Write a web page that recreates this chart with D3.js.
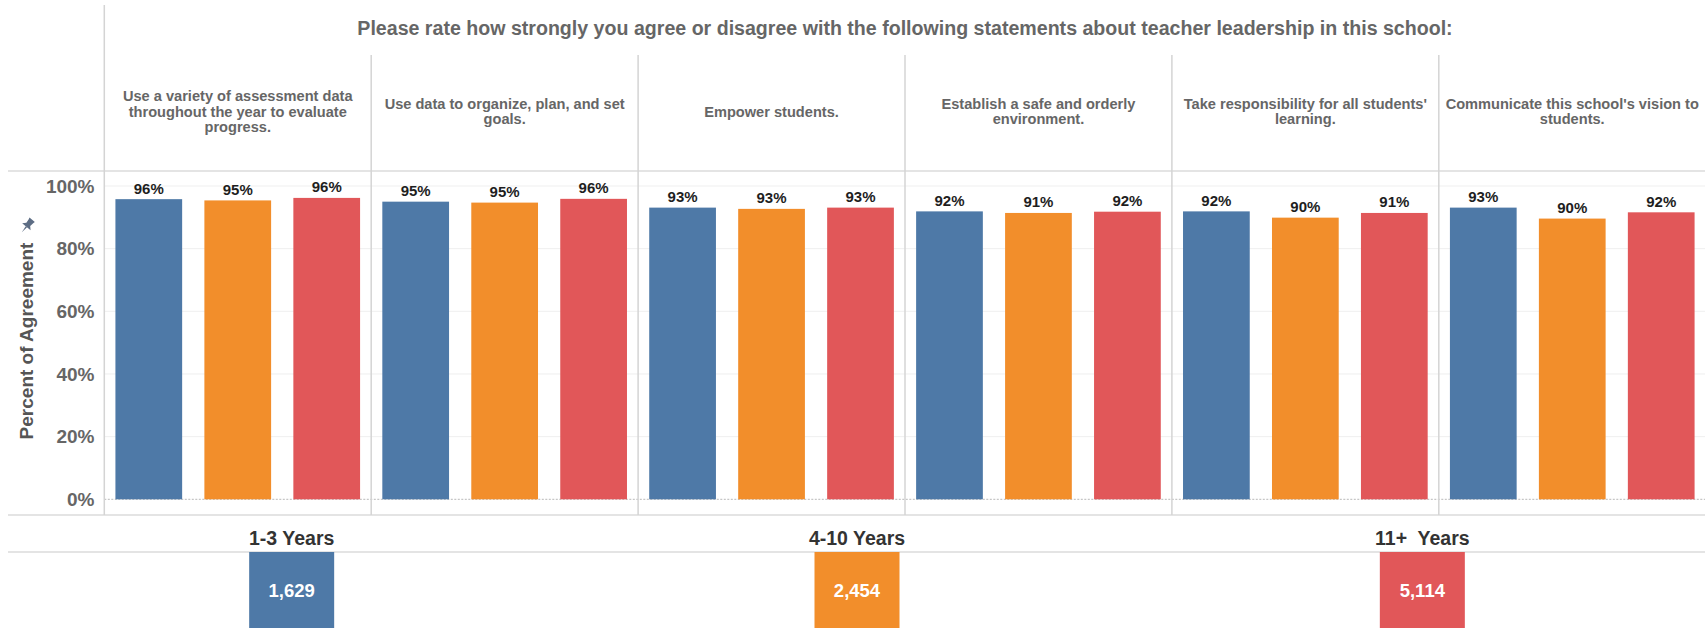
<!DOCTYPE html>
<html>
<head>
<meta charset="utf-8">
<script src="https://cdn.jsdelivr.net/npm/d3@7"></script>
<style>
  html, body { margin: 0; padding: 0; background: #fff; }
  svg { display: block; font-family: "Liberation Sans", Arial, Helvetica, sans-serif; }
</style>
</head>
<body>
<svg id="chart" width="1705" height="628"></svg>
<script>
// Survey question and statements (each statement split into its display lines)
const questionTitle = "Please rate how strongly you agree or disagree with the following statements about teacher leadership in this school:";
const statementLines = [
  ["Use a variety of assessment data", "throughout the year to evaluate", "progress."],
  ["Use data to organize, plan, and set", "goals."],
  ["Empower students."],
  ["Establish a safe and orderly", "environment."],
  ["Take responsibility for all students'", "learning."],
  ["Communicate this school's vision to", "students."]
];

// Years-of-experience groups, their colours and respondent counts
const groups = ["1-3 Years", "4-10 Years", "11+  Years"];
const groupColors = ["#4e79a7", "#f28e2b", "#e15759"];
const respondentCounts = [1629, 2454, 5114];

// Percent of agreement per statement, one array per group
const agree1to3 = [0.958, 0.950, 0.931, 0.919, 0.919, 0.931];
const agree4to10 = [0.954, 0.947, 0.927, 0.914, 0.899, 0.896];
const agree11plus = [0.962, 0.959, 0.931, 0.918, 0.914, 0.916];

// Y axis ticks
const yTicks = [0, 0.2, 0.4, 0.6, 0.8, 1.0];
const yAxisTitle = "Percent of Agreement";

const seriesValues = [agree1to3, agree4to10, agree11plus];
const W = 1705, H = 628;
const svg = d3.select("#chart");

const panelLeft = 104.3, panelRight = 1705.7;
const plotTop = 171, plotBottom = 515;

const statementIdx = d3.range(statementLines.length);
const xPanel = d3.scaleBand().domain(statementIdx).range([panelLeft, panelRight]);
const xInner = d3.scaleBand().domain(d3.range(groups.length))
  .range([0, xPanel.bandwidth()]).paddingInner(0.25).paddingOuter(0.125);
const y = d3.scaleLinear().domain([0, 1]).range([499.3, 186]);
const color = d3.scaleOrdinal().domain(d3.range(groups.length)).range(groupColors);
const pct = d3.format(".0%");

// Gridlines
svg.append("g").selectAll("line").data(yTicks.filter(d => d > 0)).join("line")
  .attr("x1", panelLeft).attr("x2", W)
  .attr("y1", d => y(d)).attr("y2", d => y(d))
  .attr("stroke", "#efefef").attr("stroke-width", 1);

// Zero line (dotted)
svg.append("line")
  .attr("x1", panelLeft).attr("x2", W).attr("y1", y(0)).attr("y2", y(0))
  .attr("stroke", "#b8b8b8").attr("stroke-width", 1).attr("stroke-dasharray", "2,1.5");

// Horizontal frame lines
[plotTop, plotBottom, 552].forEach(yy => {
  svg.append("line").attr("x1", 8).attr("x2", W).attr("y1", yy).attr("y2", yy)
    .attr("stroke", "#e4e4e4").attr("stroke-width", 2);
});

// Panel dividers
svg.append("line").attr("x1", panelLeft).attr("x2", panelLeft).attr("y1", 5).attr("y2", plotBottom)
  .attr("stroke", "#d4d4d4").attr("stroke-width", 1.5);
svg.append("g").selectAll("line").data(statementIdx.slice(1)).join("line")
  .attr("x1", d => xPanel(d)).attr("x2", d => xPanel(d))
  .attr("y1", 55).attr("y2", plotBottom)
  .attr("stroke", "#d4d4d4").attr("stroke-width", 1.5);

// Title
svg.append("text")
  .attr("x", (panelLeft + panelRight) / 2).attr("y", 35)
  .attr("text-anchor", "middle").attr("font-size", 19.6).attr("font-weight", "bold")
  .attr("fill", "#666").text(questionTitle);

// Statement headers
const lineH = 15.2, headerMid = 111.5;
statementLines.forEach((lines, i) => {
  const cx = xPanel(i) + xPanel.bandwidth() / 2;
  const t = svg.append("text").attr("text-anchor", "middle")
    .attr("font-size", 14.6).attr("font-weight", "bold").attr("fill", "#666");
  lines.forEach((ln, k) => {
    t.append("tspan").attr("x", cx)
      .attr("y", headerMid - (lines.length - 1) * lineH / 2 + 5 + k * lineH)
      .text(ln);
  });
});

// Bars and value labels
const panels = svg.append("g").selectAll("g").data(statementIdx).join("g")
  .attr("transform", d => `translate(${xPanel(d)},0)`);
panels.each(function(si) {
  const g = d3.select(this);
  const rows = groups.map((grp, gi) => ({ gi, v: seriesValues[gi][si] }));
  g.selectAll("rect").data(rows).join("rect")
    .attr("x", d => xInner(d.gi)).attr("width", xInner.bandwidth())
    .attr("y", d => y(d.v)).attr("height", d => y(0) - y(d.v))
    .attr("fill", d => color(d.gi));
  g.selectAll("text").data(rows).join("text")
    .attr("x", d => xInner(d.gi) + xInner.bandwidth() / 2)
    .attr("y", d => y(d.v) - 5.5)
    .attr("text-anchor", "middle").attr("font-size", 15).attr("font-weight", "bold")
    .attr("fill", "#1e1e1e").text(d => pct(d.v));
});

// Y axis labels
const yAxis = d3.axisLeft(y).tickValues(yTicks).tickFormat(pct).tickSize(0).tickPadding(0);
const ya = svg.append("g").attr("transform", "translate(94.5,0)").call(yAxis);
ya.select(".domain").remove();
ya.selectAll("text").attr("font-size", 19).attr("font-weight", "bold")
  .attr("fill", "#666").attr("font-family", "Liberation Sans, Arial, sans-serif");

// Y axis title with pin marker
svg.append("text")
  .attr("transform", "translate(33,341) rotate(-90)")
  .attr("text-anchor", "middle").attr("font-size", 19).attr("font-weight", "bold")
  .attr("fill", "#555").text(yAxisTitle);
const pin = svg.append("g").attr("transform", "translate(27,226) rotate(40)").attr("fill", "#5d6d84");
pin.append("path").attr("d", "M-3.5,-8 L3.5,-8 L3,-6.5 L2.5,-2 L5.5,1 L-5.5,1 L-2.5,-2 L-3,-6.5 Z");
pin.append("path").attr("d", "M-0.9,1 L0.9,1 L0,8 Z");

// Group labels and respondent counts
const xGroup = d3.scaleBand().domain(d3.range(groups.length)).range([9, W]);
const boxW = 85;
const foot = svg.append("g").selectAll("g").data(d3.range(groups.length)).join("g")
  .attr("transform", d => `translate(${xGroup(d) + xGroup.bandwidth() / 2},0)`);
foot.append("text").attr("y", 544.5).attr("text-anchor", "middle")
  .attr("font-size", 19.5).attr("font-weight", "bold").attr("fill", "#333")
  .style("white-space", "pre").text(d => groups[d]);
foot.append("rect").attr("x", -boxW / 2).attr("y", 552).attr("width", boxW).attr("height", H - 552)
  .attr("fill", d => color(d));
foot.append("text").attr("y", 596.5).attr("text-anchor", "middle")
  .attr("font-size", 18.5).attr("font-weight", "bold").attr("fill", "#fff")
  .text(d => d3.format(",")(respondentCounts[d]));
</script>
</body>
</html>
